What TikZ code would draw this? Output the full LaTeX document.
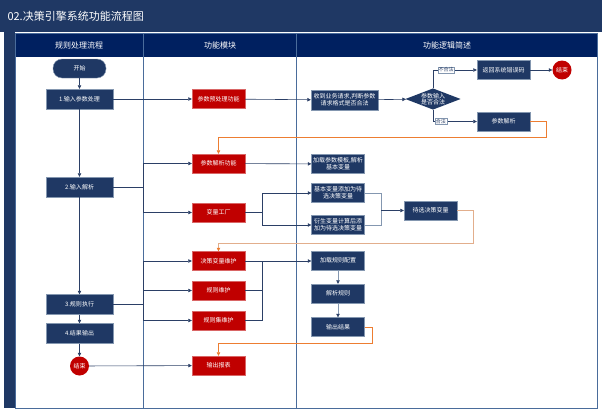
\documentclass[tikz,border=0pt]{standalone}
\usepackage{fontspec}
\newfontfamily\cjk{Noto Sans CJK SC}
\usetikzlibrary{shapes.geometric,arrows.meta}

\definecolor{titlenavy}{HTML}{1F3864}
\definecolor{headnavy}{HTML}{002060}
\definecolor{boxnavy}{HTML}{1F3864}
\definecolor{boxred}{HTML}{C00000}
\definecolor{laneblue}{HTML}{4A6C9B}
\definecolor{linknavy}{HTML}{2B3F66}
\definecolor{linkgray}{HTML}{8497B0}
\definecolor{backorange}{HTML}{ED7D31}
\definecolor{backtan}{HTML}{E2AE8C}

\tikzset{
  navybox/.style={fill=boxnavy, draw=linkgray, line width=0.4pt, text=white,
    minimum width=53pt, minimum height=19pt, inner sep=1pt, align=center,
    font=\cjk\fontsize{6}{7}\selectfont},
  widebox/.style={navybox, minimum width=67pt, minimum height=20pt},
  redbox/.style={navybox, fill=boxred, draw=boxred!60!white},
  endcircle/.style={circle, fill=boxred, text=white, minimum size=19pt, inner sep=0pt,
    font=\cjk\fontsize{6}{7}\selectfont},
  headtext/.style={text=white, font=\cjk\fontsize{8}{9}\selectfont},
  tag/.style={fill=white, draw=linkgray, line width=0.3pt, inner sep=0.8pt,
    text=linknavy, font=\cjk\fontsize{5}{6}\selectfont},
  flowline/.style={draw=linknavy, line width=0.6pt, -{Triangle[length=3.5pt,width=3.5pt]}},
  grayline/.style={flowline, draw=linkgray, -{Triangle[length=3.5pt,width=3.5pt,color=linknavy]}},
  busline/.style={draw=linknavy, line width=0.6pt},
  backline/.style={draw=backorange, line width=0.6pt, -{Triangle[length=3.5pt,width=3.5pt]}}
}

\begin{document}
\begin{tikzpicture}[x=1pt,y=-1pt]
\useasboundingbox (0,0) rectangle (602,415);

% frame, title and lanes
\fill[titlenavy] (0,0) rectangle (602,32);
\node[anchor=west, text=white, font=\cjk\fontsize{11}{13}\selectfont] (title) at (4,16) {02.决策引擎系统功能流程图};
\fill[titlenavy] (4,32) rectangle (15,408);
\fill[headnavy] (15,33) rectangle (597,57);
\draw[laneblue, line width=0.8pt] (15,33) rectangle (597,408);
\draw[laneblue, line width=0.8pt] (143,33) -- (143,408);
\draw[laneblue, line width=0.8pt] (296,33) -- (296,408);
\node[headtext] (head1) at (79,45) {规则处理流程};
\node[headtext] (head2) at (220,45) {功能模块};
\node[headtext] (head3) at (447,45) {功能逻辑简述};

% rule process lane
\node[widebox, rounded corners=9pt, minimum width=53pt, minimum height=19pt] (start) at (79.5,68.5) {开始};
\node[widebox] (in1) at (79.5,99) {1.输入参数处理};
\node[widebox] (in2) at (79.5,187) {2.输入解析};
\node[widebox] (exec) at (79.5,304.5) {3.规则执行};
\node[widebox] (out4) at (79.5,333.5) {4.结果输出};
\node[endcircle] (stop) at (79.5,366) {结束};

% function module lane
\node[redbox] (prep) at (218.5,99) {参数预处理功能};
\node[redbox] (parsefn) at (218.5,163.5) {参数解析功能};
\node[redbox] (factory) at (218.5,212.5) {变量工厂};
\node[redbox] (dvar) at (218.5,261) {决策变量维护};
\node[redbox] (rule) at (218.5,290.5) {规则维护};
\node[redbox] (ruleset) at (218.5,320.5) {规则集维护};
\node[redbox] (report) at (218.5,365.5) {输出报表};

% logic lane
\node[widebox] (recv) at (344.5,100) {收到业务请求,判断参数\\请求格式是否合法};
\node[diamond, aspect=2.6, fill=boxnavy, text=white, inner sep=0pt, align=center,
  minimum width=52pt, minimum height=20pt, font=\cjk\fontsize{6}{6.5}\selectfont] (judge) at (433,99) {参数输入\\是否合法};
\node[navybox] (errcode) at (503.5,70) {返回系统错误码};
\node[endcircle] (stop2) at (562,70) {结束};
\node[navybox] (parse) at (503.5,121.5) {参数解析};
\node[navybox] (loadtpl) at (338,164) {加载参数模板,解析\\基本变量};
\node[navybox] (basevar) at (338,193) {基本变量添加为待\\选决策变量};
\node[navybox] (derivevar) at (338,225) {衍生变量计算后添\\加为待选决策变量};
\node[navybox] (candidate) at (430.5,210.5) {待选决策变量};
\node[navybox] (loadrule) at (338,260.5) {加载规则配置};
\node[navybox] (parserule) at (338,293.5) {解析规则};
\node[navybox] (result) at (338,327) {输出结果};

\coordinate (busA) at (143,187);
\coordinate (busB) at (143,304.5);
\coordinate (busC) at (262,212.5);
\coordinate (busD) at (381,210.5);
\coordinate (busE) at (262,261);

% main flow
\draw[flowline] (start) -- (in1);
\draw[flowline] (in1) -- (in2);
\draw[flowline] (in2) -- (exec);
\draw[flowline] (exec) -- (out4);
\draw[flowline] (out4) -- (stop);
\draw[flowline] (in1) -- (prep);
\draw[flowline] (prep) -- (recv);
\draw[flowline] (recv) -- (judge);
\draw[flowline] (judge.north) |- node[tag, pos=0.65] (bad) {不合法} (errcode);
\draw[flowline] (errcode) -- (stop2);
\draw[flowline] (judge.south) |- node[tag, pos=0.59] (good) {合法} (parse);
\draw[backline] (parse.east) -- ++(16,0) -- ++(0,15.5) -| (parsefn.north);

% buses
\draw[busline] (in2.east) -- (busA);
\draw[flowline] (busA) |- (parsefn);
\draw[flowline] (busA) |- (factory);
\draw[busline] (exec.east) -- (busB);
\draw[flowline] (busB) |- (dvar);
\draw[flowline] (busB) |- (rule);
\draw[flowline] (busB) |- (ruleset);
\draw[flowline] (stop) -- (report);

\draw[flowline] (parsefn) -- (loadtpl);
\draw[busline] (factory.east) -- (busC);
\draw[flowline] (busC) |- (basevar);
\draw[flowline] (busC) |- (derivevar);
\draw[busline, draw=linkgray] (basevar.east) -| (busD);
\draw[busline, draw=linkgray] (derivevar.east) -| (busD);
\draw[flowline] (busD) -- (candidate);
\draw[backline, draw=backtan, -{Triangle[length=3.5pt,width=3.5pt,color=backorange]}] (candidate.east) -- ++(16,0) -- ++(0,32.5) -| (dvar.north);

\draw[busline] (dvar.east) -- (busE);
\draw[busline] (rule.east) -| (busE);
\draw[busline] (ruleset.east) -| (busE);
\draw[flowline] (busE) -- (loadrule.west |- busE);
\draw[grayline] (loadrule) -- (parserule);
\draw[grayline] (parserule) -- (result);
\draw[backline] (result.east) -- ++(8,0) -- ++(0,16) -| (report.north);
\end{tikzpicture}
\end{document}
